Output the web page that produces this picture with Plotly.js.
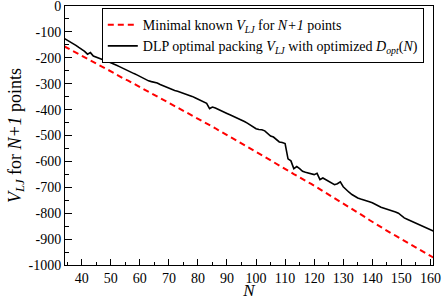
<!DOCTYPE html>
<html><head><meta charset="utf-8">
<script src="https://cdn.plot.ly/plotly-3.0.1.min.js"></script>
<style>html,body{margin:0;padding:0;background:#fff}#c{width:443px;height:300px}
#c svg text{font-family:"Liberation Serif","Tinos","Times New Roman","DejaVu Serif",serif !important;}</style>
</head><body><div id="c"></div>
<script>
const N = [];
for (let n = 34; n <= 161; n++) N.push(n);

const minimalKnown = [
-155.8,-161.8,-167.0,-173.9,-180.0,-185.2,-190.5,-196.3,-202.4,-207.7,
-213.8,-220.7,-226.0,-232.2,-239.1,-244.5,-251.3,-258.2,-265.2,-272.2,
-279.2,-283.6,-288.3,-294.4,-299.7,-305.9,-312.0,-317.4,-323.5,-329.6,
-335.0,-341.1,-347.3,-353.4,-359.9,-366.9,-373.4,-378.6,-384.8,-390.9,
-397.5,-402.9,-409.1,-414.8,-421.8,-428.1,-434.3,-440.6,-446.9,-452.7,
-459.1,-465.4,-472.1,-479.0,-486.1,-492.4,-498.8,-505.2,-510.9,-517.3,
-523.6,-529.9,-536.7,-543.7,-550.7,-557.0,-563.4,-569.4,-575.8,-582.1,
-588.3,-595.1,-602.0,-609.0,-615.4,-621.8,-628.1,-634.9,-641.8,-648.8,
-655.8,-662.8,-668.3,-674.8,-681.4,-687.0,-693.8,-700.9,-707.8,-714.9,
-721.3,-727.3,-734.5,-741.3,-748.5,-755.3,-762.4,-768.0,-775.0,-782.2,
-790.3,-797.5,-804.6,-811.8,-818.2,-826.2,-833.4,-840.5,-847.7,-854.9,
-862.1,-869.3,-876.5,-881.1,-886.7,-893.3,-899.6,-906.1,-912.4,-919.0,
-925.4,-932.1,-938.4,-945.0,-951.6,-958.1,-964.4,-971.0
];

const dlpPacking = [
-125,-131,-140,-145,-152,-160,-166,-175,-186,-180,
-193,-198,-202,-206,-210,-214,-218,-223,-229,-234,
-240,-245,-250,-255,-261,-266,-272,-277,-283,-289,
-292,-294,-297,-303,-308,-313,-318,-323,-326,-329,
-333,-336,-339,-342,-349,-354,-360,-365,-371,-376,
-396,-390,-394,-400,-404,-409,-415,-420,-425,-430,
-434,-438,-446,-452,-459,-467,-474,-477,-478,-482,
-492,-502,-506,-514,-525,-527,-531,-590,-598,-628,
-620,-628,-638,-642,-645,-650,-651,-646,-670,-664,
-670,-676,-684,-690,-686,-679,-698,-710,-719,-728,
-735,-741,-745,-748,-752,-756,-760,-767,-771,-777,
-780,-784,-788,-791,-795,-800,-810,-818,-823,-828,
-834,-840,-846,-850,-855,-859,-864,-869
];

const yTickVals = [0,-100,-200,-300,-400,-500,-600,-700,-800,-900,-1000];
const yTickText = ["0","-100","-200","-300","-400","-500","-600","-700","-800","-900","-1000"];
const xTickVals = [40,50,60,70,80,90,100,110,120,130,140,150,160];
const xTickText = ["40","50","60","70","80","90","100","110","120","130","140","150","160"];

const serif = "Liberation Serif";

const traces = [
  {x: N, y: minimalKnown, mode: "lines", type: "scatter",
   name: "Minimal known <i>V<sub>LJ</sub></i> for <i>N+1</i> points",
   line: {color: "#ff0000", width: 2, dash: "6px,4px"}},
  {x: N, y: dlpPacking, mode: "lines", type: "scatter",
   name: "DLP optimal packing <i>V<sub>LJ</sub></i> with optimized <i>D<sub>opt</sub></i>(<i>N</i>)",
   line: {color: "#000000", width: 1.6}}
];

const layout = {
  width: 443, height: 300,
  margin: {l: 65, r: 10, t: 6, b: 35},
  paper_bgcolor: "#fff", plot_bgcolor: "#fff",
  font: {family: serif, color: "#000", size: 14},
  showlegend: true,
  legend: {x: 0.1, y: 0.992, xanchor: "left", yanchor: "top",
           bgcolor: "#fff", bordercolor: "#000", borderwidth: 1,
           font: {family: serif, size: 14, color: "#000"}, tracegroupgap: 0, itemwidth: 30},
  xaxis: {range: [34.25, 160.9], showgrid: false, zeroline: false,
          showline: true, linecolor: "#000", linewidth: 1, mirror: true,
          tickmode: "array", tickvals: xTickVals, ticktext: xTickText,
          ticks: "inside", ticklen: 6, tickcolor: "#000",
          tickfont: {family: serif, size: 14, color: "#000"}, ticklabeloverflow: "allow",
          minor: {dtick: 5, ticks: "inside", ticklen: 3, tickcolor: "#000", showgrid: false},
          title: {text: "<i>N</i>", font: {family: serif, size: 17, color: "#000"}, standoff: 1}},
  yaxis: {range: [-1000, 0], showgrid: false, zeroline: false,
          showline: true, linecolor: "#000", linewidth: 1, mirror: true,
          tickmode: "array", tickvals: yTickVals, ticktext: yTickText,
          ticks: "inside", ticklen: 7, tickcolor: "#000",
          tickfont: {family: serif, size: 14, color: "#000"}, ticklabeloverflow: "allow",
          minor: {dtick: 50, ticks: "inside", ticklen: 4, tickcolor: "#000", showgrid: false},
          title: {text: "<i>V<sub>LJ</sub></i> for <i>N+1</i> points", font: {family: serif, size: 18, color: "#000"}, standoff: 2}}
};

Plotly.newPlot("c", traces, layout, {displayModeBar: false, staticPlot: true});
</script></body></html>
